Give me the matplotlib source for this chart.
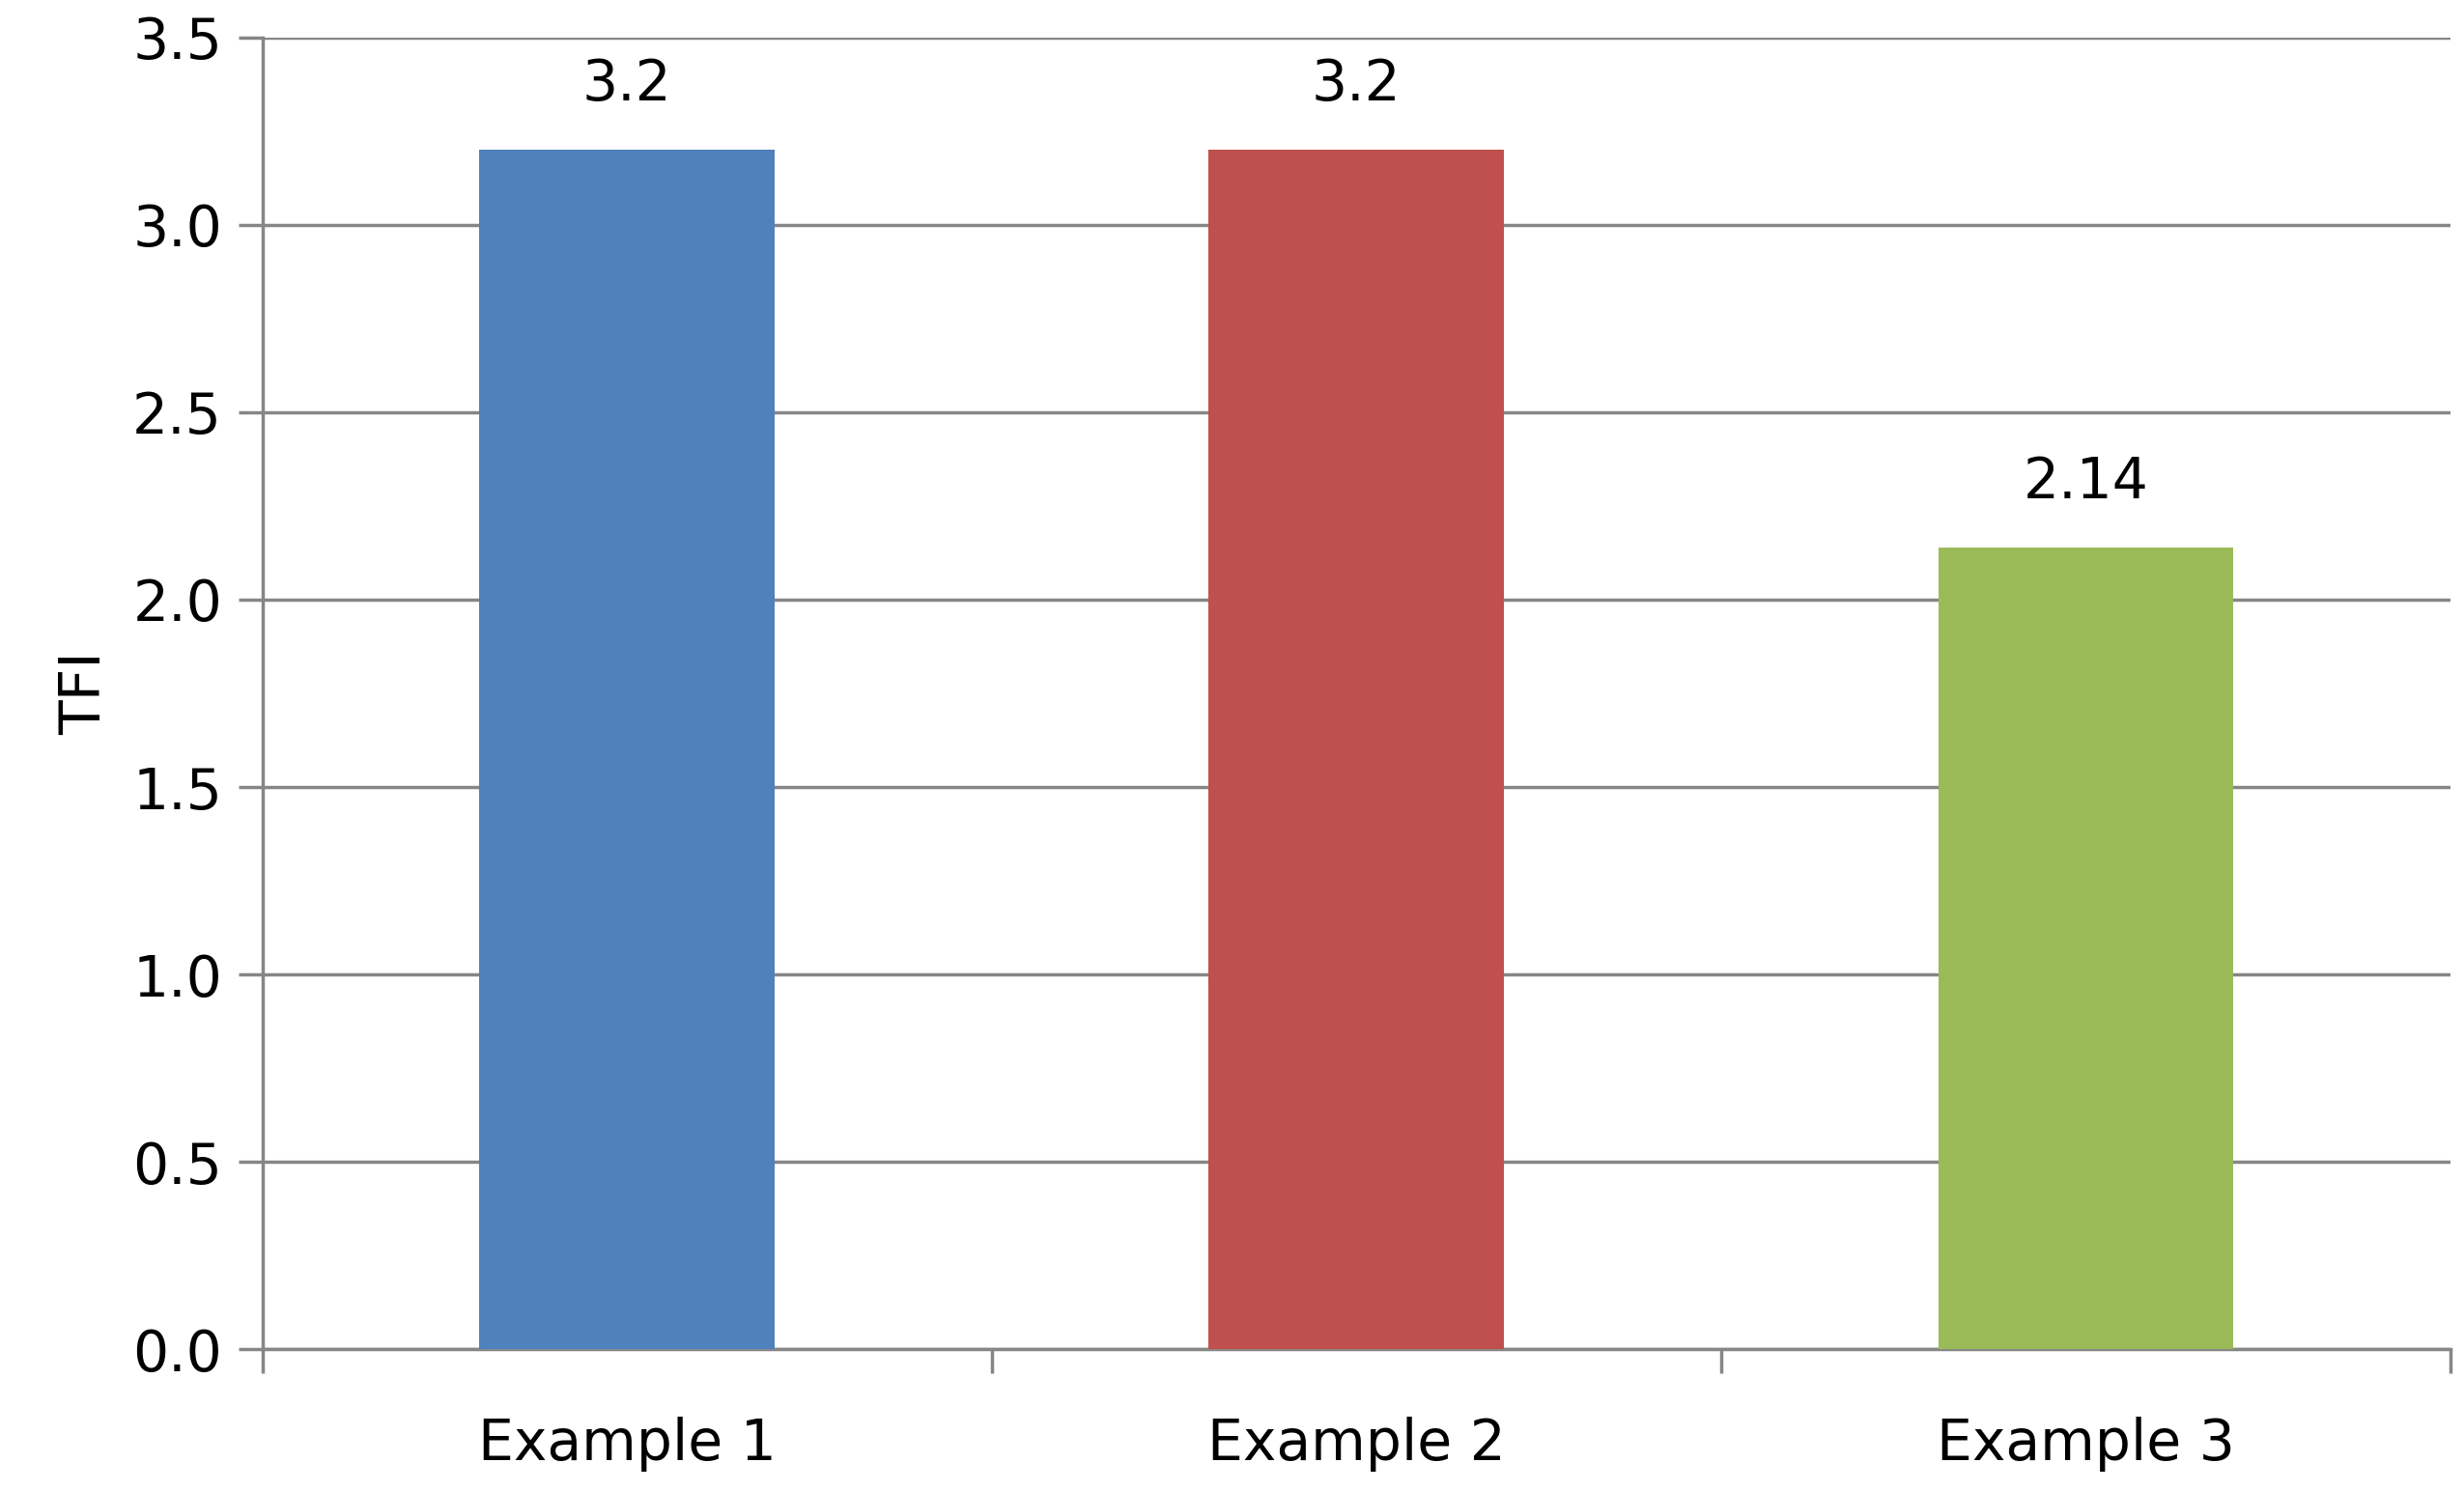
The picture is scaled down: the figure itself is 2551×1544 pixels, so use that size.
import matplotlib
matplotlib.use('Agg')
import matplotlib.pyplot as plt

categories = ['Example 1', 'Example 2', 'Example 3']
values = [3.2, 3.2, 2.14]
labels = ['3.2', '3.2', '2.14']
colors = ['#4F81BD', '#C0504D', '#9BBB59']
yticks = [0.0, 0.5, 1.0, 1.5, 2.0, 2.5, 3.0, 3.5]

fig = plt.figure(figsize=(25.51, 15.44), dpi=100)
ax = fig.add_axes([0.1065, 0.095, 0.888, 0.88])

x = list(range(len(categories)))
ax.bar(x, values, width=0.405, color=colors, zorder=3)
for xi, v, lab in zip(x, values, labels):
    ax.text(xi, v + 0.1, lab, ha='center', va='bottom', fontsize=42)

ax.set_xlim(-0.5, 2.5)
ax.set_ylim(0, 3.5)
ax.set_yticks(yticks)
ax.set_yticklabels(['%.1f' % t for t in yticks], fontsize=42)
ax.yaxis.grid(True, color='#868686', linewidth=2.5, zorder=0)

# category labels between boundary ticks
ax.set_xticks([-0.5, 0.5, 1.5, 2.5])
ax.set_xticklabels([])
ax.set_xticks(x, minor=True)
ax.set_xticklabels(categories, minor=True, fontsize=42)
ax.tick_params(axis='x', which='minor', length=0, pad=50)
ax.tick_params(axis='x', which='major', length=18, width=2.5, color='#868686')
ax.tick_params(axis='y', length=18, width=2.5, color='#868686', pad=12)

for s in ['top', 'right']:
    ax.spines[s].set_visible(False)
for s in ['left', 'bottom']:
    ax.spines[s].set_color('#868686')
    ax.spines[s].set_linewidth(2.5)

ax.set_ylabel('TFI', fontsize=42, labelpad=15)

fig.savefig('out.png', dpi=100)
